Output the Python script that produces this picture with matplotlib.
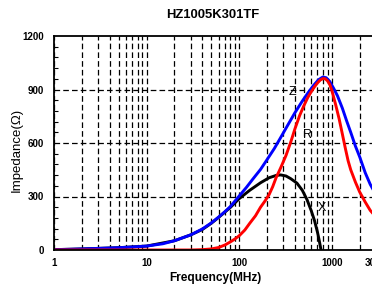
import matplotlib
matplotlib.use("Agg")
import matplotlib.pyplot as plt
from matplotlib.ticker import FixedLocator, NullFormatter, FixedFormatter

plt.rcParams['font.family'] = ['Liberation Sans', 'DejaVu Sans']

title = "HZ1005K301TF"
xlabel = "Frequency(MHz)"
ylabel = "Impedance(Ω)"

z_freq = [1, 1.5, 2, 3, 5, 7, 10, 15, 20, 30, 40, 50, 60, 70, 80, 100, 120, 140,
          170, 200, 240, 280, 330, 400, 480, 560, 640, 720, 800, 870, 950, 1050,
          1150, 1300, 1450, 1600, 1800, 2000, 2300, 2600, 3000]
z_vals = [2, 4, 6, 9, 13, 17, 22, 35, 52, 85, 118, 152, 185, 215, 243, 303, 352, 397,
          452, 507, 570, 630, 695, 770, 835, 885, 925, 955, 970, 966, 945, 905,
          865, 795, 722, 660, 582, 522, 432, 368, 310]

r_freq = [1, 10, 30, 40, 50, 60, 70, 80, 90, 100, 115, 130, 150, 170, 190, 210, 230,
          250, 280, 320, 360, 400, 450, 500, 550, 600, 650, 700, 750, 800, 850, 900,
          950, 1000, 1100, 1200, 1300, 1400, 1500, 1600, 1800, 2000, 2300, 2600, 3000]
r_vals = [0, 0, 0, 2, 6, 14, 28, 45, 62, 80, 112, 150, 192, 240, 275, 310, 355,
          405, 460, 530, 605, 680, 755, 810, 855, 888, 915, 937, 953, 961, 960, 948,
          928, 895, 815, 735, 650, 570, 500, 450, 380, 325, 268, 222, 185]

x_freq = [1, 2, 5, 10, 20, 30, 40, 50, 60, 80, 100, 130, 170, 210, 250, 280, 320,
          360, 420, 480, 540, 600, 650, 700, 730, 765]
x_vals = [2, 6, 13, 22, 52, 85, 115, 150, 183, 238, 288, 335, 377, 405, 418, 421, 415,
          400, 375, 335, 282, 220, 165, 100, 55, 0]

curve_labels = ["Z", "R", "X"]
label_pos = [(371, 888), (543, 645), (783, 236)]

xticks_major = [1, 10, 100, 1000, 3000]
xtick_labels = ["1", "10", "100", "1000", "3000"]
yticks_major = [0, 300, 600, 900, 1200]

fig = plt.figure(figsize=(3.72, 2.86), dpi=100)
ax = fig.add_axes([54/372, (286-250)/286, (376-54)/372, (250-36)/286])
ax.set_xscale('log')
ax.set_xlim(1, 3000)
ax.set_ylim(0, 1200)

# grid lines
grid_x = [m * 10**e for e in range(0, 4) for m in range(1, 10) if m * 10**e <= 3000]
for gx in grid_x:
    ax.axvline(gx, color='black', lw=0.9, ls=(0, (4.5, 2.5)), zorder=1)
for gy in [300, 600, 900]:
    ax.axhline(gy, color='black', lw=0.9, ls=(0, (4.5, 2.5)), zorder=1)

ax.plot(x_freq, x_vals, color='black', lw=2.1, zorder=3, solid_capstyle='butt')
ax.plot(r_freq, r_vals, color='#ff0000', lw=2.1, zorder=4)
ax.plot(z_freq, z_vals, color='#0000ff', lw=2.1, zorder=3)

for lab, (lx, ly) in zip(curve_labels, label_pos):
    ax.text(lx, ly, lab, fontsize=9, ha='center', va='center', color='black', zorder=5)

ax.xaxis.set_major_locator(FixedLocator(xticks_major))
ax.xaxis.set_major_formatter(FixedFormatter(xtick_labels))
ax.xaxis.set_minor_locator(FixedLocator([]))
ax.xaxis.set_minor_formatter(NullFormatter())
ax.yaxis.set_major_locator(FixedLocator(yticks_major))
ax.yaxis.set_minor_locator(FixedLocator(list(range(0, 1201, 60))))

ax.tick_params(axis='both', which='both', direction='in')
ax.tick_params(axis='x', which='major', length=0, pad=6, labelsize=7)
ax.tick_params(axis='y', which='major', length=0, pad=7, labelsize=7)
ax.tick_params(axis='y', which='minor', length=3, width=0.8)
for lbl in ax.get_xticklabels() + ax.get_yticklabels():
    lbl.set_fontweight('bold')

for s in ['left', 'bottom', 'top', 'right']:
    ax.spines[s].set_linewidth(1.3)
    ax.spines[s].set_zorder(6)

ax.set_xlabel(xlabel, fontsize=8.6, fontweight='bold', labelpad=3)
ax.set_ylabel(ylabel, fontsize=9.5)
ax.yaxis.set_label_coords((23 - 54) / 322, (250 - 150) / 214)
fig.text(213/372, 1 - 15/286, title, fontsize=9.4, fontweight='bold', ha='center', va='center')

fig.savefig("out.png", dpi=100)
